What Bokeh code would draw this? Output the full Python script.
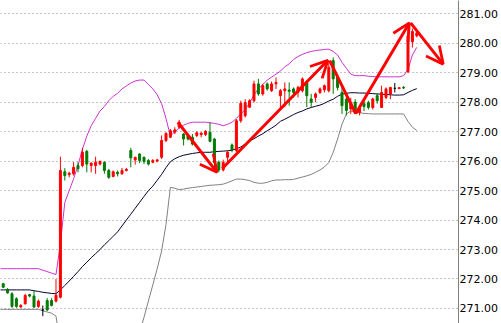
from bokeh.plotting import figure
from bokeh.models import ColumnDataSource, Range1d, Arrow, OpenHead, FixedTicker
from bokeh.embed import file_html
from bokeh.resources import INLINE

# ---- candle data (index, open, high, low, close) ----
opens = [271.84, 271.64, 271.50, 271.33, 271.05, 271.16, 271.47, 271.42, 271.07, 270.95,
         271.27, 271.27, 271.25, 271.38, 275.64, 275.54, 275.57, 275.85, 275.85, 276.33,
         275.85, 275.85, 275.90, 275.96, 275.68, 275.48, 275.62, 275.57, 275.68, 276.36,
         276.04, 276.24, 276.13, 276.02, 275.96, 276.00, 276.13, 276.70, 276.81, 276.98,
         277.15, 276.92, 276.87, 276.81, 276.87, 276.90, 276.90, 276.98, 276.75, 275.96,
         275.70, 276.13, 276.55, 276.36, 277.37, 277.54, 277.83, 278.05, 278.62, 278.28,
         278.62, 278.39, 278.62, 278.22, 278.39, 278.41, 278.45, 278.33, 278.39, 278.67,
         278.11, 278.16, 278.33, 278.42, 278.39, 279.41, 278.85, 278.33, 278.10, 277.77,
         278.00, 277.65, 277.95, 277.99, 277.82, 278.22, 277.82, 278.16, 278.28, 278.47,
         278.46, 278.50, 279.03, 280.05, 280.25]
highs = [271.87, 271.69, 271.55, 271.38, 271.15, 271.50, 271.50, 271.61, 271.30, 271.10,
         271.35, 271.35, 272.00, 276.15, 275.76, 275.64, 275.96, 275.96, 276.45, 276.38,
         275.96, 276.15, 276.02, 275.99, 275.74, 275.68, 275.68, 275.77, 275.77, 276.45,
         276.15, 276.27, 276.15, 276.07, 276.07, 276.08, 276.87, 276.98, 277.09, 277.15,
         277.40, 276.95, 276.92, 276.92, 277.01, 276.98, 277.05, 277.32, 276.79, 276.02,
         276.05, 276.35, 276.60, 277.43, 278.05, 278.10, 278.10, 278.73, 278.79, 278.62,
         278.67, 278.70, 278.84, 278.45, 278.67, 278.67, 278.50, 278.56, 278.84, 278.75,
         278.28, 278.33, 278.50, 278.60, 279.35, 279.52, 278.95, 278.56, 278.20, 278.15,
         278.10, 277.90, 278.05, 278.05, 278.15, 278.30, 278.56, 278.50, 278.52, 278.65,
         278.50, 278.55, 280.55, 280.50, 280.40]
lows = [271.69, 271.50, 271.02, 271.02, 271.02, 271.13, 271.38, 271.02, 271.02, 270.74,
        270.91, 271.07, 271.20, 271.34, 275.34, 275.45, 275.51, 275.62, 275.79, 275.62,
        275.62, 275.57, 275.85, 275.57, 275.40, 275.45, 275.48, 275.54, 275.65, 275.79,
        275.88, 275.93, 275.90, 275.85, 275.93, 275.96, 276.07, 276.64, 276.78, 276.92,
        277.10, 276.53, 276.70, 276.53, 276.81, 276.81, 276.85, 276.64, 275.75, 275.62,
        275.65, 275.96, 276.30, 276.30, 277.30, 277.48, 277.80, 277.99, 278.22, 278.22,
        278.39, 278.35, 278.45, 277.77, 277.83, 277.88, 278.16, 278.16, 278.33, 277.83,
        277.83, 278.00, 278.28, 278.33, 278.33, 278.28, 278.40, 277.60, 277.55, 277.60,
        277.60, 277.55, 277.70, 277.75, 277.75, 277.95, 277.80, 278.10, 278.10, 278.33,
        278.45, 278.45, 279.00, 279.85, 280.20]
closes = [271.72, 271.53, 271.07, 271.07, 271.10, 271.44, 271.42, 271.05, 271.25, 270.95,
          270.95, 271.10, 271.45, 275.68, 275.51, 275.59, 275.79, 275.74, 276.30, 275.90,
          275.93, 275.96, 275.99, 275.68, 275.45, 275.64, 275.57, 275.68, 275.72, 276.11,
          276.13, 276.02, 275.99, 275.90, 276.02, 276.04, 276.70, 276.94, 277.03, 277.06,
          277.32, 276.75, 276.75, 276.58, 276.96, 276.95, 277.01, 276.67, 275.95, 275.70,
          275.96, 276.30, 276.38, 277.37, 277.96, 277.99, 278.05, 278.62, 278.28, 278.56,
          278.45, 278.62, 278.67, 278.39, 278.45, 278.37, 278.33, 278.50, 278.79, 278.22,
          278.00, 278.28, 278.45, 278.56, 279.18, 278.79, 278.50, 277.88, 277.72, 277.99,
          277.70, 277.80, 277.85, 277.82, 278.11, 278.05, 278.33, 278.45, 278.50, 278.47,
          278.49, 278.48, 280.25, 280.40, 280.35]
candle_idx = list(range(len(opens)))

# ---- Bollinger band lines (index -1 .. 94) ----
band_idx = list(range(-1, 95))
upper = [272.35, 272.35, 272.35, 272.35, 272.35, 272.35, 272.35, 272.35, 272.35, 272.35,
         272.30, 272.25, 272.20, 272.15, 273.20, 274.60, 275.00, 275.40, 275.85, 276.40,
         276.85, 277.20, 277.45, 277.70, 277.85, 278.05, 278.20, 278.30, 278.45, 278.55,
         278.65, 278.72, 278.75, 278.75, 278.60, 278.45, 278.25, 277.95, 277.45, 276.85,
         277.00, 277.12, 277.22, 277.28, 277.32, 277.32, 277.32, 277.32, 277.30, 277.28,
         277.25, 277.20, 277.25, 277.32, 277.45, 277.60, 277.75, 277.98, 278.25, 278.45,
         278.60, 278.75, 278.85, 278.95, 279.05, 279.20, 279.30, 279.45, 279.55, 279.62,
         279.68, 279.72, 279.75, 279.77, 279.79, 279.80, 279.72, 279.60, 279.35, 279.15,
         278.95, 278.90, 278.90, 278.90, 278.88, 278.87, 278.86, 278.86, 278.86, 278.86,
         278.86, 278.86, 278.90, 279.10, 279.60, 279.86]
middle = [271.63, 271.63, 271.63, 271.63, 271.63, 271.63, 271.63, 271.63, 271.60, 271.58,
          271.55, 271.53, 271.51, 271.50, 271.63, 271.78, 271.93, 272.09, 272.25, 272.42,
          272.57, 272.72, 272.86, 273.00, 273.16, 273.30, 273.45, 273.60, 273.80, 274.00,
          274.20, 274.40, 274.60, 274.80, 275.00, 275.15, 275.35, 275.55, 275.78, 275.98,
          276.08, 276.15, 276.20, 276.23, 276.26, 276.28, 276.30, 276.30, 276.30, 276.32,
          276.33, 276.34, 276.35, 276.37, 276.42, 276.48, 276.58, 276.68, 276.76, 276.85,
          276.93, 277.03, 277.12, 277.22, 277.35, 277.42, 277.50, 277.58, 277.65, 277.70,
          277.77, 277.82, 277.86, 277.90, 277.96, 278.04, 278.10, 278.20, 278.27, 278.30,
          278.32, 278.32, 278.31, 278.31, 278.30, 278.29, 278.28, 278.27, 278.26, 278.25,
          278.24, 278.24, 278.25, 278.33, 278.40, 278.46]
lower = [270.97, 270.97, 270.97, 270.97, 270.97, 270.97, 270.97, 270.97, 270.97, 270.97,
         270.92, 270.88, 270.84, 270.74, 269.80, 269.30, 269.00, 268.80, 268.70, 268.60,
         268.60, 268.60, 268.65, 268.70, 268.80, 268.90, 269.00, 269.20, 269.40, 269.60,
         269.85, 270.00, 270.20, 270.70, 271.25, 271.80, 272.35, 272.95, 273.85, 275.11,
         275.08, 275.03, 275.05, 275.08, 275.10, 275.12, 275.14, 275.16, 275.18, 275.19,
         275.20, 275.22, 275.27, 275.33, 275.39, 275.39, 275.37, 275.34, 275.28, 275.25,
         275.25, 275.28, 275.33, 275.36, 275.36, 275.37, 275.37, 275.38, 275.42, 275.46,
         275.50, 275.55, 275.62, 275.70, 275.80, 275.95, 276.30, 276.75, 277.25, 277.60,
         277.70, 277.66, 277.64, 277.62, 277.61, 277.60, 277.60, 277.60, 277.60, 277.60,
         277.60, 277.60, 277.60, 277.35, 277.15, 277.04]

# ---- hand-drawn trend arrows (index / price) ----
arrow_x0 = [39.7, 49.8, 80.1, 92.6]
arrow_y0 = [277.32, 275.75, 277.61, 280.69]
arrow_x1 = [48.6, 73.8, 92.3, 100.0]
arrow_y1 = [275.62, 279.42, 280.69, 279.29]
leg_x0 = [74.2]
leg_y0 = [279.41]
leg_x1 = [80.1]
leg_y1 = [277.61]

tick_values = [271, 272, 273, 274, 275, 276, 277, 278, 279, 280, 281]
tick_labels = ["271.00", "272.00", "273.00", "274.00", "275.00", "276.00",
               "277.00", "278.00", "279.00", "280.00", "281.00"]

RED = "#ff0000"
GREEN = "#007a00"

colors = []
tops = []
bottoms = []
for o, c in zip(opens, closes):
    if c > o:
        colors.append(RED)
    elif c < o:
        colors.append(GREEN)
    else:
        colors.append("#000000")
    tops.append(max(o, c))
    bottoms.append(min(o, c))

src = ColumnDataSource(dict(x=candle_idx, o=opens, h=highs, l=lows, c=closes,
                            top=tops, bottom=bottoms, color=colors))

p = figure(width=501, height=323,
           x_range=Range1d(-0.614, 103.48), y_range=Range1d(270.49, 281.45),
           x_axis_location=None, y_axis_location="right",
           toolbar_location=None, output_backend="svg",
           min_border_left=0, min_border_right=43, min_border_top=0, min_border_bottom=0)
p.outline_line_color = None
p.background_fill_color = "white"
p.border_fill_color = "white"

p.xgrid.visible = False
p.ygrid.grid_line_color = "#8c8c8c"
p.ygrid.grid_line_dash = "1 3"
p.ygrid.grid_line_width = 1

ax = p.yaxis[0]
ax.ticker = FixedTicker(ticks=tick_values)
ax.major_label_overrides = {float(v): s for v, s in zip(tick_values, tick_labels)}
ax.axis_line_color = "#808080"
ax.major_tick_out = 0
ax.major_tick_in = 0
ax.minor_tick_line_color = None
ax.major_label_standoff = 1
ax.major_label_text_font = "DejaVu Sans"
ax.major_label_text_font_size = "11px"
ax.major_label_text_color = "#000000"

# bands
p.line(band_idx, upper, line_color="#cc33cc", line_width=1)
p.line(band_idx, middle, line_color="#000033", line_width=1)
p.line(band_idx, lower, line_color="#808080", line_width=1)

# candles
p.segment(x0="x", y0="l", x1="x", y1="h", line_color="color", line_width=1, source=src)
p.vbar(x="x", width=0.45, top="top", bottom="bottom", fill_color="color",
       line_color="color", line_width=1, source=src)

# arrows
asrc = ColumnDataSource(dict(x0=arrow_x0, y0=arrow_y0, x1=arrow_x1, y1=arrow_y1))
p.add_layout(Arrow(end=OpenHead(size=17, line_color=RED, line_width=2.8),
                   x_start="x0", y_start="y0", x_end="x1", y_end="y1",
                   line_color=RED, line_width=3, source=asrc))
p.segment(x0=leg_x0, y0=leg_y0, x1=leg_x1, y1=leg_y1, line_color=RED, line_width=3)

open("out.html", "w").write(file_html(p, INLINE))
